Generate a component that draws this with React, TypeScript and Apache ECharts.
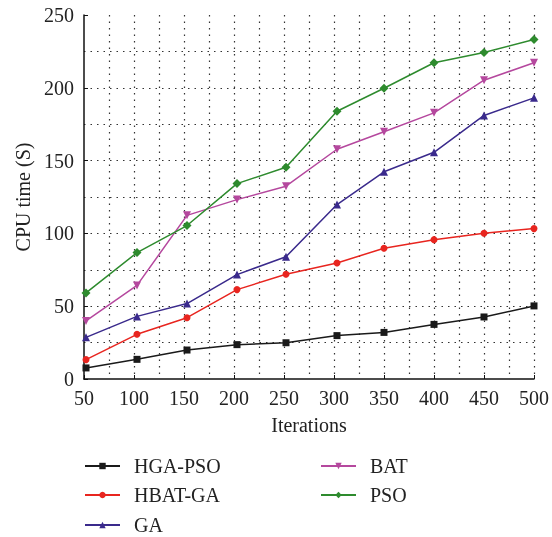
import React, { useEffect, useRef } from "react";
import * as echarts from "echarts";

const iterations = [50, 100, 150, 200, 250, 300, 350, 400, 450, 500];
// marker x-positions as drawn in the reference (slightly offset from grid)
const xPositions = [52, 103, 153, 203, 252, 303, 350, 400, 450, 500];
const hgaPso = [7.6, 13.5, 19.9, 23.6, 24.9, 29.8, 32, 37.5, 42.6, 50.2];
const hbatGa = [13.3, 30.7, 42.1, 61.4, 71.9, 79.7, 89.8, 95.7, 100.1, 103.3];
const ga = [28.6, 43, 51.8, 71.7, 84, 119.8, 142.3, 155.7, 181, 193.1];
const bat = [39.9, 64.3, 112.4, 123.2, 132.4, 157.8, 169.8, 182.8, 205.2, 217.2];
const pso = [59.1, 86.8, 105.4, 134.2, 145.4, 183.9, 199.7, 217.2, 224.2, 233.2];

const FONT = "Liberation Serif";

const pair = (ys: number[]) => ys.map((y, i) => [xPositions[i], y]);

export default function App() {
  const ref = useRef<HTMLDivElement>(null);
  useEffect(() => {
    if (!ref.current) return;
    const chart = echarts.init(ref.current, undefined, { renderer: "svg" });
    const dotted = { lineStyle: { type: [1.5, 5] as any, color: "#333", width: 1.2 } };
    const mk = (name: string, data: number[], color: string, symbol: string, size: number, rotate = 0) => ({
      name,
      type: "line",
      data: pair(data),
      symbol,
      symbolSize: size,
      symbolRotate: rotate,
      lineStyle: { color, width: 1.5 },
      itemStyle: { color },
      z: 3,
    });
    const leg = (name: string, left: number, top: number) => ({
      data: [name],
      left,
      top,
      padding: 0,
      itemWidth: 35,
      itemHeight: 8,
      textStyle: { fontFamily: FONT, fontSize: 20, color: "#222", padding: [0, 0, 0, 9] },
    });
    chart.setOption({
      animation: false,
      textStyle: { fontFamily: FONT },
      grid: { left: 84, right: 15, top: 15, bottom: 158 },
      xAxis: {
        type: "value",
        min: 50,
        max: 500,
        interval: 50,
        name: "Iterations",
        nameLocation: "middle",
        nameGap: 36,
        nameTextStyle: { fontFamily: FONT, fontSize: 20, color: "#222" },
        axisLine: { show: true, onZero: false, lineStyle: { color: "#111", width: 1.5 } },
        axisTick: { show: true, inside: true, length: 4, lineStyle: { color: "#111" } },
        axisLabel: { fontFamily: FONT, fontSize: 20, color: "#222", margin: 9 },
        splitLine: { show: true, showMinLine: false, showMaxLine: true, ...dotted },
        minorTick: { show: false, splitNumber: 2 },
        minorSplitLine: { show: true, ...dotted },
      },
      yAxis: {
        type: "value",
        min: 0,
        max: 250,
        interval: 50,
        name: "CPU time (S)",
        nameLocation: "middle",
        nameGap: 51,
        nameTextStyle: { fontFamily: FONT, fontSize: 20, color: "#222" },
        axisLine: { show: true, lineStyle: { color: "#111", width: 1.5 } },
        axisTick: { show: true, inside: true, length: 4, lineStyle: { color: "#111" } },
        axisLabel: { fontFamily: FONT, fontSize: 20, color: "#222", margin: 10 },
        splitLine: { show: true, showMinLine: false, showMaxLine: false, ...dotted },
        minorTick: { show: false, splitNumber: 2 },
        minorSplitLine: { show: true, ...dotted },
      },
      legend: [
        leg("HGA-PSO", 84, 456),
        leg("HBAT-GA", 84, 485),
        leg("GA", 84, 515),
        leg("BAT", 320, 456),
        leg("PSO", 320, 485),
      ],
      series: [
        mk("HGA-PSO", hgaPso, "#1a1a1a", "rect", 7),
        mk("HBAT-GA", hbatGa, "#e8251f", "circle", 7),
        mk("GA", ga, "#3a2a8c", "triangle", 8),
        mk("BAT", bat, "#b5489e", "triangle", 8, 180),
        mk("PSO", pso, "#2e8b2e", "diamond", 9),
      ],
    });
    return () => chart.dispose();
  }, []);
  return (
    <div
      ref={ref}
      style={{ position: "fixed", left: 0, top: 0, width: 552, height: 537 }}
    />
  );
}
